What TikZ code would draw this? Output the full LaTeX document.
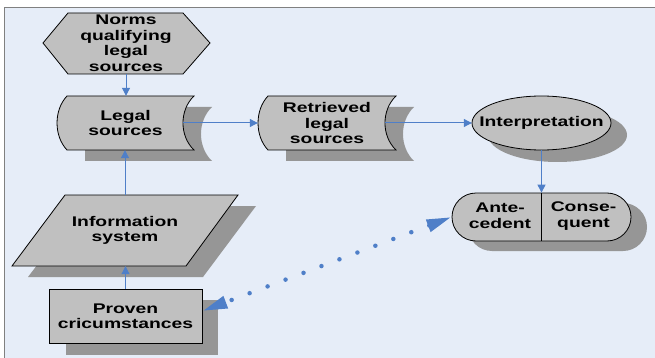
\documentclass[tikz,border=0pt]{standalone}
\usepackage{fontspec}
\setmainfont{Liberation Sans}[FakeStretch=1.38]
\usetikzlibrary{arrows.meta,shapes.misc}
\definecolor{bg}{HTML}{E6EDF8}
\definecolor{fillg}{HTML}{C0C0C0}
\definecolor{shad}{HTML}{969696}
\definecolor{blu}{HTML}{4F7FC8}
\begin{document}
\begin{tikzpicture}[x=1pt,y=-1pt,
  lab/.style={font=\bfseries\fontsize{14}{15.5}\selectfont, align=center, inner sep=0pt},
  shp/.style={fill=fillg, draw=black, line width=0.8pt},
  sh/.style={fill=shad, draw=none},
  arr/.style={draw=blu, line width=1pt, -{Triangle[length=8pt,width=8pt]}},
  dots/.style={draw=blu, line width=4.5pt, line cap=round, dash pattern=on 0pt off 19.2pt,
    {Triangle[length=25pt,width=12pt]}-{Triangle[length=25pt,width=12pt]}}
  ]
\useasboundingbox (0,0) rectangle (655,358);
\fill[white] (0,0) rectangle (655,358);
\filldraw[fill=bg, draw=gray, line width=0.8pt] (4.5,7) rectangle (670,375);

% Norms hexagon
\filldraw[shp] (43,43) -- (68,13) -- (183,13) -- (210,43) -- (183,74) -- (68,74) -- cycle;
\node[lab, minimum width=100pt, minimum height=61pt] (norms) at (126,43.5) {Norms\\qualifying\\legal\\sources};

% Legal sources (stored data)
\fill[sh] (85,107) -- (212,107) .. controls (197.3,121) and (197.3,147) .. (212,161) -- (85,161) -- cycle;
\filldraw[shp] (67,96) -- (194,96) .. controls (179.3,110) and (179.3,136) .. (194,150)
  -- (67,150) .. controls (53.7,136) and (53.7,110) .. (67,96) -- cycle;
\node[lab, minimum width=137pt, minimum height=54pt] (legal) at (125.5,123) {Legal\\sources};

% Retrieved legal sources
\fill[sh] (286,107) -- (414,107) .. controls (399.3,121) and (399.3,147) .. (414,161) -- (286,161) -- cycle;
\filldraw[shp] (268,96) -- (396,96) .. controls (381.3,110) and (381.3,136) .. (396,150)
  -- (268,150) .. controls (254.7,136) and (254.7,110) .. (268,96) -- cycle;
\node[lab, minimum width=138pt, minimum height=54pt] (retrieved) at (327,123) {Retrieved\\legal\\sources};

% Interpretation
\fill[sh] (557.5,135) ellipse [x radius=69.5, y radius=27];
\filldraw[shp] (541.5,123) ellipse [x radius=69.5, y radius=27];
\node[lab, minimum width=139pt, minimum height=54pt] (interp) at (541.5,123) {Interpretation};

% Antecedent / Consequent
\node[rounded rectangle, sh, minimum width=179pt, minimum height=48pt, inner sep=0pt] (acsh) at (557.5,227) {};
\node[rounded rectangle, shp, minimum width=179pt, minimum height=48pt, inner sep=0pt] (ac) at (541.5,217) {};
\draw[line width=0.8pt] (ac.north) -- (ac.south);
\node[lab] (ante) at (500,216) {Ante-\\cedent};
\node[lab] (cons) at (583.5,216) {Conse-\\quent};

% Information system
\fill[sh] (82,206) -- (256,206) -- (203,277) -- (28,277) -- cycle;
\filldraw[shp] (65,195) -- (238,195) -- (186,266) -- (12,266) -- cycle;
\node[lab, minimum width=100pt, minimum height=71pt] (info) at (125,230.5) {Information\\system};

% Proven circumstances
\fill[sh] (66,300) rectangle (218,355);
\node[lab, shp, minimum width=153pt, minimum height=54pt] (proven) at (125.5,316) {Proven\\cricumstances};

% Connectors
\draw[arr] (norms.south) -- (norms.south |- legal.north);
\draw[arr] ([xshift=-11pt]legal.east) -- (retrieved.west);
\draw[arr] ([xshift=-11pt]retrieved.east) -- (interp.west);
\draw[arr] (interp.south) -- (ac.north);
\draw[arr] (info.north) -- (info.north |- legal.south);
\draw[arr] (proven.north) -- (proven.north |- info.south);
\draw[dots] (ac.west) -- ([yshift=5pt]proven.east);
\end{tikzpicture}
\end{document}
